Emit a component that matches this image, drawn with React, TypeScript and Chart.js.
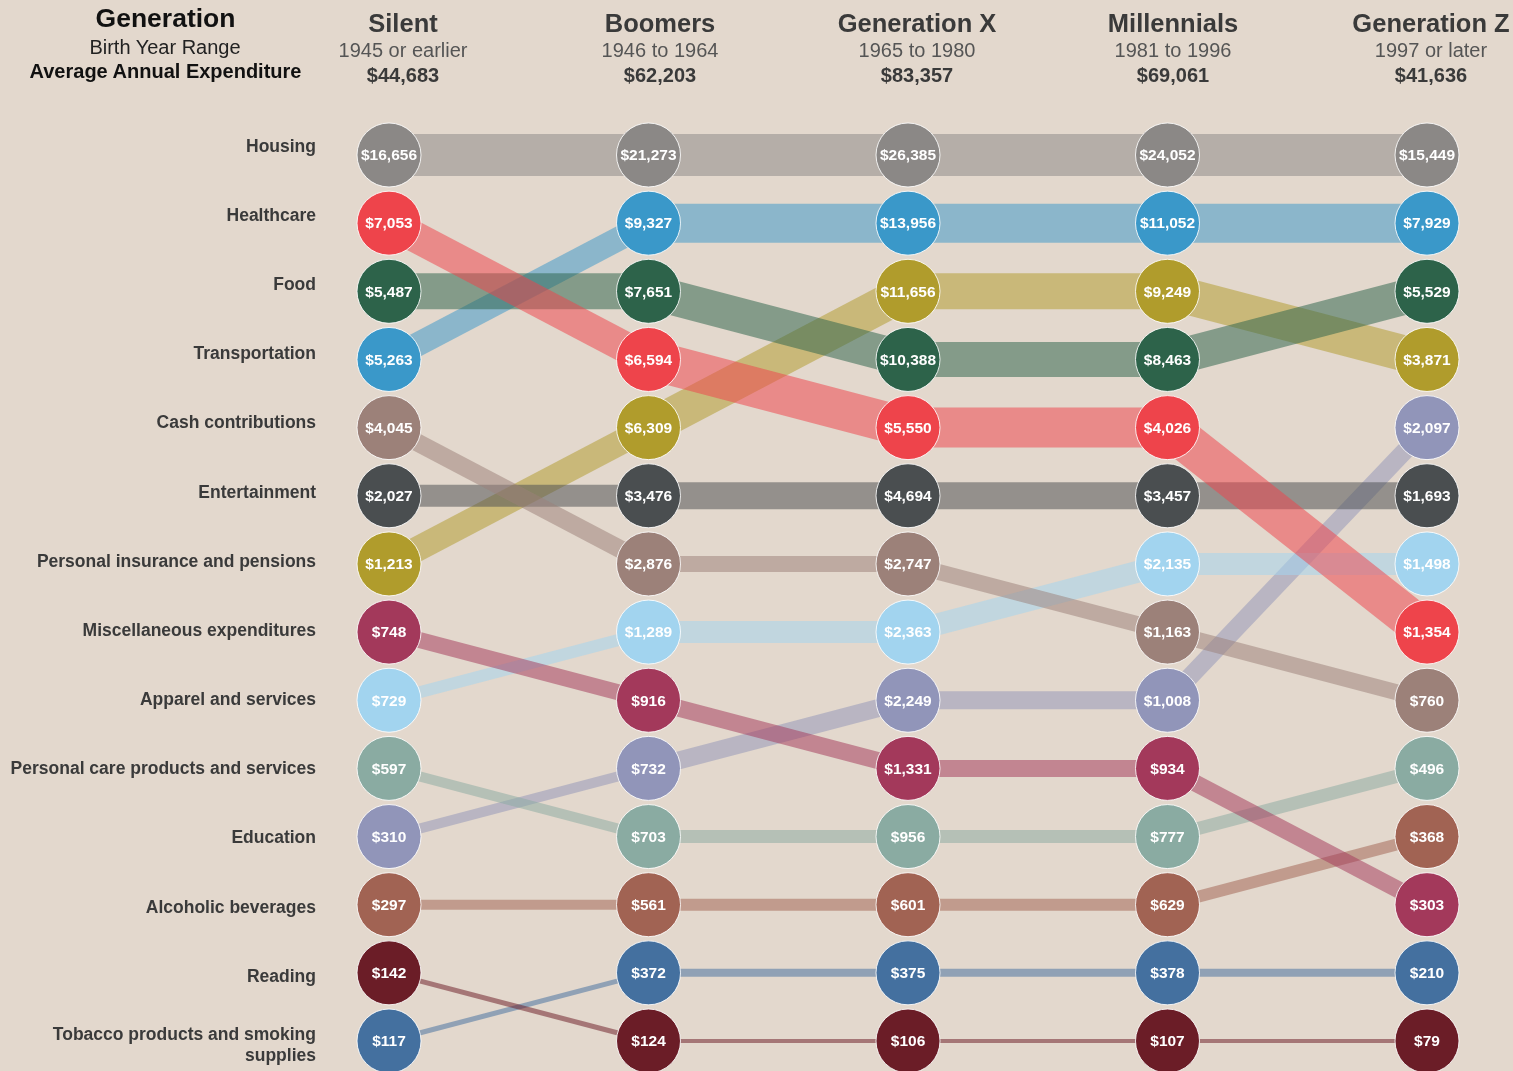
import React, { useEffect, useRef } from "react";
import { Chart, registerables } from "chart.js";

Chart.register(...registerables);

// ---------- data ----------
const generations = ["Silent", "Boomers", "Generation X", "Millennials", "Generation Z"];
const birthRanges = ["1945 or earlier", "1946 to 1964", "1965 to 1980", "1981 to 1996", "1997 or later"];
const avgExpenditure = [44683, 62203, 83357, 69061, 41636];

const categories = [
  "Housing",
  "Healthcare",
  "Food",
  "Transportation",
  "Cash contributions",
  "Entertainment",
  "Personal insurance and pensions",
  "Miscellaneous expenditures",
  "Apparel and services",
  "Personal care products and services",
  "Education",
  "Alcoholic beverages",
  "Reading",
  "Tobacco products and smoking supplies",
];

const housing = [16656, 21273, 26385, 24052, 15449];
const healthcare = [7053, 6594, 5550, 4026, 1354];
const food = [5487, 7651, 10388, 8463, 5529];
const transportation = [5263, 9327, 13956, 11052, 7929];
const cashContributions = [4045, 2876, 2747, 1163, 760];
const entertainment = [2027, 3476, 4694, 3457, 1693];
const personalInsurance = [1213, 6309, 11656, 9249, 3871];
const miscellaneous = [748, 916, 1331, 934, 303];
const apparel = [729, 1289, 2363, 2135, 1498];
const personalCare = [597, 703, 956, 777, 496];
const education = [310, 732, 2249, 1008, 2097];
const alcoholic = [297, 561, 601, 629, 368];
const reading = [142, 124, 106, 107, 79];
const tobacco = [117, 372, 375, 378, 210];

const seriesValues = [
  housing, healthcare, food, transportation, cashContributions, entertainment,
  personalInsurance, miscellaneous, apparel, personalCare, education, alcoholic,
  reading, tobacco,
];

// ---------- styles ----------
const circleColors = [
  "#8b8886", "#ee444b", "#2d634a", "#3a98c9", "#9c8179", "#4a4e50", "#b09c2c",
  "#a3395b", "#a2d4ef", "#8aaba2", "#9195b9", "#a16353", "#6b1d27", "#44709f",
];
const lineWidths = [42, 40, 35, 39, 16, 27, 36, 17, 22, 13, 18, 12, 4, 8];
const firstSegmentWidths = [42, 31, 36, 24, 18, 22, 25, 16, 12, 10, 10, 10, 5, 5];

const BG = "#e3d8cd";
const FONT = "'Liberation Sans', Arial, Helvetica, sans-serif";

function hexToRgba(hex: string, a: number) {
  const n = parseInt(hex.slice(1), 16);
  return `rgba(${(n >> 16) & 255},${(n >> 8) & 255},${n & 255},${a})`;
}
const fmt = (v: number) => "$" + v.toLocaleString("en-US");

// ranks per generation (1 = largest)
const ranks: number[][] = generations.map((_, g) => {
  const order = categories.map((_, i) => i).sort((a, b) => seriesValues[b][g] - seriesValues[a][g]);
  const r: number[] = new Array(categories.length);
  order.forEach((ci, k) => (r[ci] = k + 1));
  return r;
});

const labelFor = (rank: number) => {
  const ci = ranks[0].indexOf(rank);
  const name = categories[ci] || "";
  if (name === "Tobacco products and smoking supplies") return ["Tobacco products and smoking", "supplies"];
  return name;
};

const valueLabelPlugin = {
  id: "valueLabels",
  afterDatasetsDraw(chart: any) {
    const ctx = chart.ctx;
    ctx.save();
    ctx.font = `bold 15.5px ${FONT}`;
    ctx.fillStyle = "#ffffff";
    ctx.textAlign = "center";
    ctx.textBaseline = "middle";
    chart.data.datasets.forEach((ds: any, di: number) => {
      if (!ds.isPointSet) return;
      const meta = chart.getDatasetMeta(di);
      meta.data.forEach((pt: any, g: number) => {
        ctx.fillText(fmt(seriesValues[ds.catIndex][g]), pt.x, pt.y + 1);
      });
    });
    ctx.restore();
  },
};

export default function App() {
  const canvasRef = useRef<HTMLCanvasElement | null>(null);

  useEffect(() => {
    document.body.style.margin = "0";
    document.body.style.background = BG;
    const canvas = canvasRef.current;
    if (!canvas) return;

    const lineSets = categories.map((c, i) => ({
      type: "line",
      label: c,
      data: generations.map((_, g) => ({ x: g, y: ranks[g][i] })),
      borderColor: hexToRgba(circleColors[i], 0.52),
      borderWidth: lineWidths[i],
      borderCapStyle: "butt",
      segment: {
        borderWidth: (ctx: any) => (ctx.p0DataIndex === 0 ? firstSegmentWidths[i] : lineWidths[i]),
      },
      pointRadius: 0,
      pointHoverRadius: 0,
      tension: 0,
      fill: false,
      order: 2,
      clip: false,
      xAxisID: "x",
      yAxisID: "y",
    }));

    const pointSets = categories.map((c, i) => ({
      type: "line",
      label: c + " points",
      isPointSet: true,
      catIndex: i,
      data: generations.map((_, g) => ({ x: g, y: ranks[g][i] })),
      showLine: false,
      pointRadius: 32,
      pointHoverRadius: 32,
      pointBackgroundColor: circleColors[i],
      pointBorderColor: "rgba(255,255,255,0.85)",
      pointBorderWidth: 1,
      order: 1,
      clip: false,
      xAxisID: "x",
      yAxisID: "y",
    }));

    const chart = new Chart(canvas, {
      type: "line",
      data: { datasets: [...lineSets, ...pointSets] as any },
      options: {
        animation: false,
        responsive: true,
        maintainAspectRatio: false,
        events: [],
        layout: { autoPadding: false, padding: { top: 120, left: 0, right: 0, bottom: 0 } },
        plugins: { legend: { display: false }, tooltip: { enabled: false }, title: { display: false } },
        scales: {
          x: { type: "linear", min: -0.2274, max: 4.3314, display: false },
          y: { type: "linear", reverse: true, min: 0.4865, max: 14.44, display: false },
          yl: {
            type: "linear",
            position: "left",
            reverse: true,
            min: 0.6097,
            max: 14.359,
            grid: { display: false, drawTicks: false },
            border: { display: false },
            afterBuildTicks: (axis: any) => {
              axis.ticks = categories.map((_, k) => ({ value: k + 1 }));
            },
            afterFit: (axis: any) => {
              axis.width = 330;
              axis.paddingTop = 0;
              axis.paddingBottom = 0;
            },
            ticks: {
              autoSkip: false,
              padding: 14,
              color: "#3a3a3a",
              font: { family: FONT, size: 17.5, weight: "bold", lineHeight: 1.2 },
              callback: (v: any) => labelFor(Number(v)),
            },
          },
        },
      } as any,
      plugins: [valueLabelPlugin],
    });
    return () => chart.destroy();
  }, []);

  const colX = [403, 660, 917, 1173, 1431];

  const abs = (x: number, y: number, size: number, weight: string, color: string): React.CSSProperties => ({
    position: "absolute",
    left: x,
    top: y - size * 0.6,
    transform: "translateX(-50%)",
    whiteSpace: "nowrap",
    fontFamily: FONT,
    fontSize: size,
    lineHeight: `${size * 1.2}px`,
    fontWeight: weight as any,
    color,
  });

  return (
    <div style={{ position: "relative", width: 1513, height: 1071, background: BG, overflow: "hidden" }}>
      <canvas ref={canvasRef} style={{ position: "absolute", left: 0, top: 0 }} />
      <div style={abs(165.5, 19, 26.5, "bold", "#111")}>Generation</div>
      <div style={abs(165, 47, 20, "normal", "#222")}>Birth Year Range</div>
      <div style={abs(165.5, 71, 20, "bold", "#111")}>Average Annual Expenditure</div>
      {generations.map((g, i) => (
        <React.Fragment key={g}>
          <div style={abs(colX[i], 23, 25.5, "bold", "#3a3a3a")}>{g}</div>
          <div style={abs(colX[i], 50, 20, "normal", "#555")}>{birthRanges[i]}</div>
          <div style={abs(colX[i], 75, 20, "bold", "#3a3a3a")}>{fmt(avgExpenditure[i])}</div>
        </React.Fragment>
      ))}
    </div>
  );
}
